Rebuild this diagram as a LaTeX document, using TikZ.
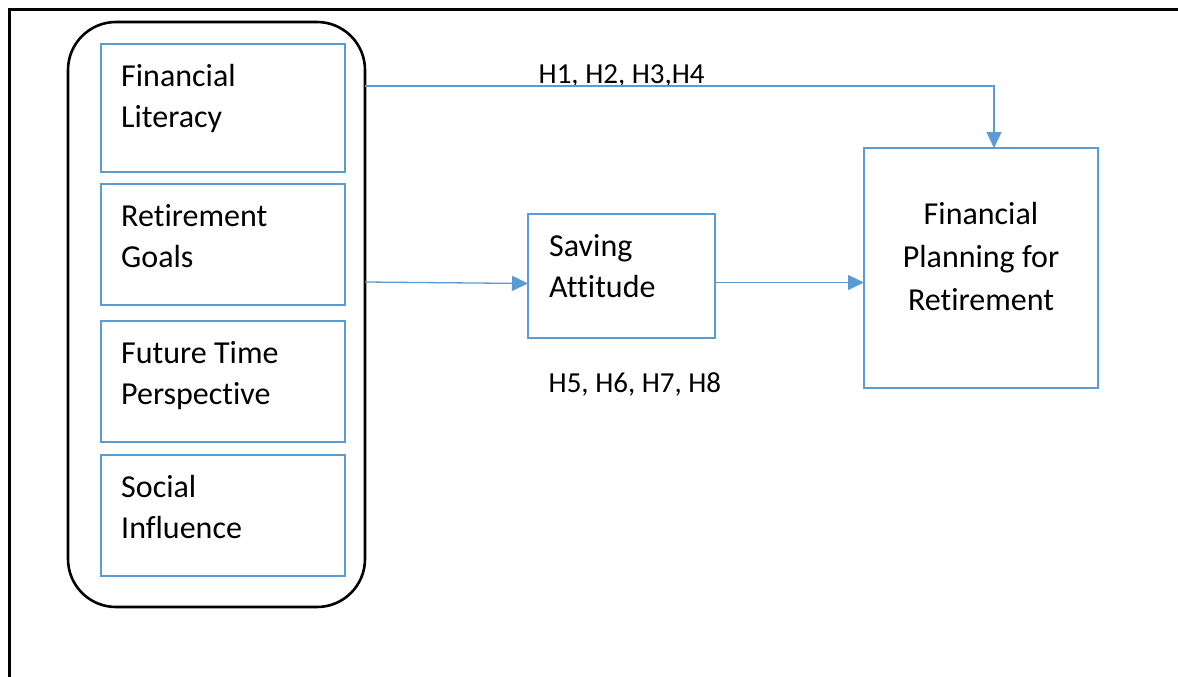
\documentclass[tikz,border=0pt]{standalone}
\usepackage{fontspec}
\setmainfont{Carlito}[Ligatures={NoCommon,NoRequired,NoContextual}]
\usetikzlibrary{arrows.meta}
\definecolor{boxblue}{HTML}{5B9BD5}
\tikzset{
  blk/.style={draw=boxblue, line width=2.4pt, inner sep=0pt, outer sep=0pt},
  grpbox/.style={draw=black, line width=2.6pt, rounded corners=48pt, inner sep=0pt, outer sep=0pt},
  txt/.style={font=\fontsize{32}{41}\selectfont, anchor=base west, inner sep=0pt},
  ctxt/.style={font=\fontsize{32}{41}\selectfont, anchor=base, inner sep=0pt},
  hyp/.style={font=\fontsize{29}{35}\selectfont, anchor=base west, inner sep=0pt},
  conn/.style={draw=boxblue, line width=1.3pt, -{Triangle[length=16pt,width=15pt]}}
}
\begin{document}
\begin{tikzpicture}[x=1pt, y=-1pt]
  \clip (0,0) rectangle (1178,677);
  % page frame, open to the right and bottom
  \draw[line width=2.6pt] (9.5,700) -- (9.5,9.5) -- (1200,9.5);

  % group of predictors
  \node[grpbox, minimum width=297, minimum height=585] (grp) at (216.5,314.5) {};
  \node[blk, minimum width=244, minimum height=128] (fl) at (223,108) {};
  \node[blk, minimum width=244, minimum height=121] (rg) at (223,244.5) {};
  \node[blk, minimum width=244, minimum height=121] (ft) at (223,381.5) {};
  \node[blk, minimum width=244, minimum height=121] (si) at (223,515.5) {};

  \node[txt] (fl1) at (121,86) {Financial};
  \node[txt] (fl2) at (121,127) {Literacy};
  \node[txt] (rg1) at (121,226) {Retirement};
  \node[txt] (rg2) at (121,267) {Goals};
  \node[txt] (ft1) at (121,363) {Future Time};
  \node[txt] (ft2) at (121,404) {Perspective};
  \node[txt] (si1) at (121,497) {Social};
  \node[txt] (si2) at (121,538) {Influence};

  % mediator
  \node[blk, minimum width=187, minimum height=124] (sav) at (621.5,276) {};
  \node[txt] (sav1) at (549,256) {Saving};
  \node[txt] (sav2) at (549,297) {Attitude};

  % outcome
  \node[blk, minimum width=234, minimum height=240] (fpr) at (981,268) {};
  \node[ctxt] (fpr1) at (981,224) {Financial};
  \node[ctxt] (fpr2) at (981,267) {Planning for};
  \node[ctxt] (fpr3) at (981,310) {Retirement};

  % hypothesis labels
  \node[hyp] (h14) at (538.5,83) {H1, H2, H3,H4};
  \node[hyp] (h58) at (548.5,392) {H5, H6, H7, H8};

  % connectors
  \coordinate (bend) at (994,86);
  \draw[conn] (grp.east |- bend) -- (bend) -- (bend |- fpr.north);
  \draw[conn] (grp.east |- 0,282) -- (sav.west |- 0,283.5);
  \draw[conn] (sav.east |- 0,282.5) -- (fpr.west |- 0,282.5);
\end{tikzpicture}
\end{document}
